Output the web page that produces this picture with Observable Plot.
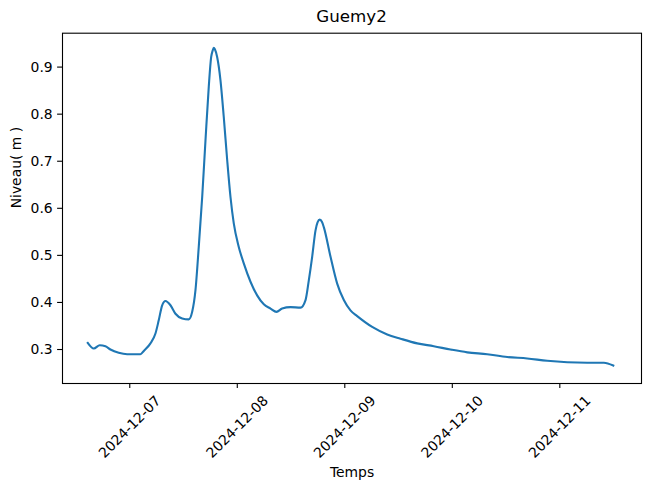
<!DOCTYPE html>
<html>
<head>
<meta charset="utf-8">
<script src="https://cdn.jsdelivr.net/npm/d3@7"></script>
<script src="https://cdn.jsdelivr.net/npm/@observablehq/plot@0.6"></script>
<style>
  body { margin: 0; background: #fff; font-family: "DejaVu Sans", sans-serif; }
  #title { position: relative; width: 649px; height: 32px; }
  #title span { position: absolute; left: 351.5px; top: 6px; transform: translateX(-50%); font-size: 16.7px; color: #000; white-space: nowrap; }
</style>
</head>
<body>
<div id="title"><span>Guemy2</span></div>
<div id="chart"></div>
<script>
const times = [
  "2024-12-06T14:37","2024-12-06T15:58","2024-12-06T17:18","2024-12-06T18:34","2024-12-06T19:41",
  "2024-12-06T21:32","2024-12-06T23:25","2024-12-07T02:23","2024-12-07T03:08","2024-12-07T04:37",
  "2024-12-07T05:44","2024-12-07T06:28","2024-12-07T07:14","2024-12-07T07:58","2024-12-07T09:05",
  "2024-12-07T10:12","2024-12-07T11:42","2024-12-07T13:10","2024-12-07T13:56","2024-12-07T14:40",
  "2024-12-07T15:24","2024-12-07T16:10","2024-12-07T16:54","2024-12-07T17:38","2024-12-07T18:10",
  "2024-12-07T18:30","2024-12-07T18:45","2024-12-07T19:00","2024-12-07T19:31","2024-12-07T20:15",
  "2024-12-07T20:59","2024-12-07T21:45",
  "2024-12-07T22:29","2024-12-07T23:13","2024-12-08T00:20","2024-12-08T01:27","2024-12-08T02:57",
  "2024-12-08T04:26","2024-12-08T05:55","2024-12-08T07:25","2024-12-08T08:45","2024-12-08T10:01",
  "2024-12-08T11:53","2024-12-08T14:07","2024-12-08T15:14","2024-12-08T15:58","2024-12-08T16:43",
  "2024-12-08T17:28","2024-12-08T17:55","2024-12-08T18:25","2024-12-08T18:55","2024-12-08T19:19",
  "2024-12-08T20:49","2024-12-08T22:18",
  "2024-12-08T23:47","2024-12-09T01:16","2024-12-09T02:46","2024-12-09T06:07","2024-12-09T09:28",
  "2024-12-09T12:26","2024-12-09T16:10","2024-12-09T19:52","2024-12-09T23:36","2024-12-10T03:20",
  "2024-12-10T07:47","2024-12-10T12:16","2024-12-10T16:43","2024-12-10T21:11","2024-12-11T01:40",
  "2024-12-11T06:07","2024-12-11T09:50","2024-12-11T11:56"
];
const levels = [
  0.314,0.302,0.309,0.307,0.300,
  0.293,0.290,0.290,0.297,0.313,
  0.334,0.362,0.394,0.403,0.394,
  0.376,0.366,0.364,0.380,0.426,
  0.518,0.624,0.744,0.858,0.921,
  0.935,0.941,0.938,0.921,0.872,
  0.794,0.702,
  0.624,0.568,0.518,0.483,0.444,
  0.415,0.396,0.387,0.380,0.387,
  0.390,0.389,0.405,0.447,0.497,
  0.553,0.570,0.576,0.571,0.560,
  0.497,0.440,
  0.405,0.383,0.371,0.348,0.332,
  0.323,0.313,0.307,0.300,0.294,
  0.290,0.284,0.281,0.276,0.273,
  0.272,0.272,0.266
];
const xTickDates = ["2024-12-07","2024-12-08","2024-12-09","2024-12-10","2024-12-11"];
const yTicks = [0.3, 0.4, 0.5, 0.6, 0.7, 0.8, 0.9];
const title = "Guemy2";
const xLabel = "Temps";
const yLabel = "Niveau( m )";

const data = times.map((t, i) => ({t: new Date(t + "Z"), v: levels[i]}));
const xTicks = xTickDates.map(d => new Date(d + "T00:00Z"));

const chart = Plot.plot({
  width: 649,
  height: 457,
  marginTop: 0.7,
  marginBottom: 106,
  marginLeft: 62,
  marginRight: 8,
  style: {fontFamily: "DejaVu Sans", fontSize: "13.9px", color: "#000", background: "#fff"},
  x: {type: "utc", domain: [new Date("2024-12-06T08:59Z"), new Date("2024-12-11T18:14Z")]},
  y: {domain: [0.2278, 0.972]},
  marks: [
    Plot.line(data, {x: "t", y: "v", stroke: "#1f77b4", strokeWidth: 2.1, strokeLinejoin: "round", strokeLinecap: "square", curve: "monotone-x"}),
    Plot.frame({stroke: "#000", strokeWidth: 1.1}),
    Plot.axisY({ticks: yTicks, tickSize: 4.9, tickPadding: 4.9, tickFormat: d3.format(".1f"), label: null, strokeWidth: 1.1, fontSize: 13.9}),
    Plot.axisX({ticks: xTicks, tickSize: 4.9, tickFormat: () => "", label: null, strokeWidth: 1.1}),
    Plot.text(xTicks, {x: d => d, text: (d, i) => xTickDates[i], frameAnchor: "bottom", dy: 43.5, rotate: -45, textAnchor: "middle", lineAnchor: "middle", fontSize: 13.9, fill: "#000"}),
    Plot.text([xLabel], {text: d => d, frameAnchor: "bottom", dy: 89, lineAnchor: "middle", fontSize: 13.9, fill: "#000"}),
    Plot.text([yLabel], {text: d => d, frameAnchor: "left", dx: -46, rotate: -90, lineAnchor: "middle", fontSize: 13.9, fill: "#000"})
  ]
});
document.getElementById("chart").appendChild(chart);
</script>
</body>
</html>
